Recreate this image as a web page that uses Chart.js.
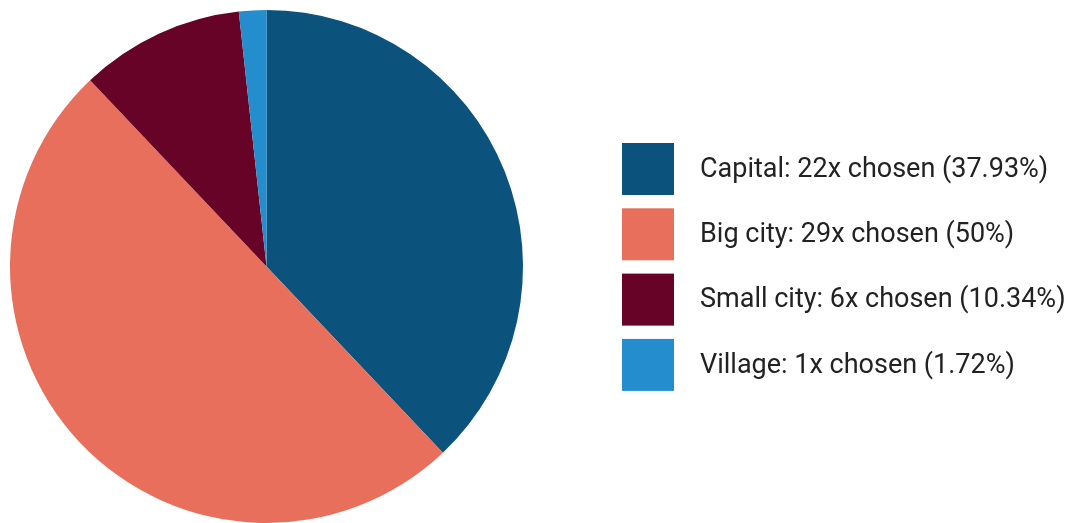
<!DOCTYPE html>
<html>
<head>
<meta charset="utf-8">
<script src="https://cdn.jsdelivr.net/npm/chart.js@4"></script>
<style>
  html, body { margin: 0; padding: 0; background: #fff; }
  #wrap { width: 1080px; height: 523px; position: relative; }
</style>
</head>
<body>
<div id="wrap"><canvas id="chart"></canvas></div>
<script>
// datos del grafico
const categorias = ["Capital", "Big city", "Small city", "Village"];
const elegidos = [22, 29, 6, 1];
const porcentajes = ["37.93%", "50%", "10.34%", "1.72%"];
const colores = ["#0b527c", "#e76f5c", "#660327", "#238dce"];

// leyenda dibujada a la derecha del pie
const leyendaPlugin = {
    id: "leyendaDerecha",
    afterDraw(chart) {
        const ctx = chart.ctx;
        const meta = chart.getDatasetMeta(0);
        ctx.save();
        ctx.font = "27px Roboto";
        ctx.textBaseline = "middle";
        for (let i = 0; i < categorias.length; i++) {
            const y = 143 + i * 65.3;
            ctx.fillStyle = meta.data[i].options.backgroundColor;
            ctx.fillRect(622, y, 52, 52);
            ctx.fillStyle = "#222";
            const texto = categorias[i] + ": " + elegidos[i] + "x chosen (" + porcentajes[i] + ")";
            ctx.fillText(texto, 700, y + 27);
        }
        ctx.restore();
    }
};

const config = {
    type: "pie",
    data: {
        labels: categorias,
        datasets: [{
            data: elegidos,
            backgroundColor: colores,
            borderWidth: 0
        }]
    },
    options: {
        responsive: true,
        maintainAspectRatio: false,
        animation: false,
        layout: {
            padding: { left: 10, top: 10, right: 557, bottom: 0 }
        },
        plugins: {
            legend: { display: false },
            tooltip: { enabled: false }
        }
    },
    plugins: [leyendaPlugin]
};

new Chart(document.getElementById("chart"), config);
</script>
</body>
</html>
